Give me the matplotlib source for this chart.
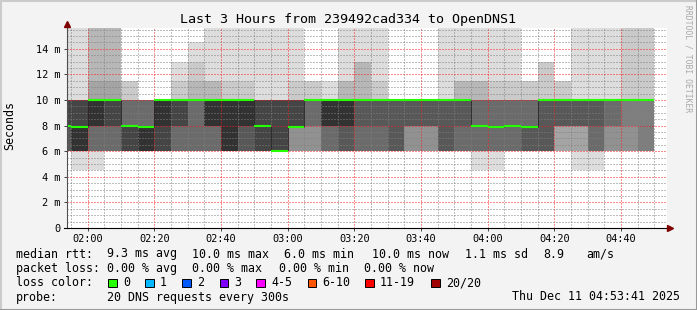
import numpy as np
import matplotlib
matplotlib.use('Agg')
import matplotlib.pyplot as plt
from matplotlib.patches import Rectangle
from matplotlib.lines import Line2D

# end time of each 5 minute bucket
bucket_end = ['01:55', '02:00', '02:05', '02:10', '02:15', '02:20', '02:25', '02:30', '02:35',
              '02:40', '02:45', '02:50', '02:55', '03:00', '03:05', '03:10', '03:15', '03:20',
              '03:25', '03:30', '03:35', '03:40', '03:45', '03:50', '03:55', '04:00', '04:05',
              '04:10', '04:15', '04:20', '04:25', '04:30', '04:35', '04:40', '04:45', '04:50']

# rtt levels (ms) and how many of the 20 pings landed on each, per bucket
levels = [4.5, 6.0, 8.0, 10.0, 11.5, 13.0, 14.5, 15.7]
ping_counts = [
    [0, 8, 3, 8, 0, 0, 0, 1],
    [1, 9, 1, 8, 0, 0, 0, 1],
    [1, 6, 3, 6, 1, 0, 0, 3],
    [0, 7, 2, 7, 1, 0, 0, 3],
    [0, 9, 4, 5, 2, 0, 0, 0],
    [0, 10, 3, 7, 0, 0, 0, 0],
    [0, 9, 1, 10, 0, 0, 0, 0],
    [0, 7, 2, 9, 1, 1, 0, 0],
    [0, 7, 0, 10, 1, 1, 1, 0],
    [0, 7, 3, 7, 2, 0, 0, 1],
    [0, 10, 0, 8, 1, 0, 0, 1],
    [0, 8, 2, 8, 1, 0, 0, 1],
    [0, 9, 2, 8, 0, 0, 0, 1],
    [0, 11, 0, 8, 0, 0, 0, 1],
    [0, 5, 6, 7, 1, 0, 0, 1],
    [0, 5, 2, 11, 2, 0, 0, 0],
    [0, 7, 3, 9, 1, 0, 0, 0],
    [0, 8, 2, 7, 2, 0, 0, 1],
    [0, 7, 1, 9, 0, 2, 0, 1],
    [0, 7, 1, 10, 1, 0, 0, 1],
    [0, 8, 0, 12, 0, 0, 0, 0],
    [0, 5, 3, 12, 0, 0, 0, 0],
    [0, 5, 3, 12, 0, 0, 0, 0],
    [0, 8, 0, 11, 0, 0, 0, 1],
    [0, 7, 1, 9, 2, 0, 0, 1],
    [1, 6, 6, 4, 2, 0, 0, 1],
    [1, 6, 6, 5, 1, 0, 0, 1],
    [0, 7, 6, 5, 1, 0, 0, 1],
    [0, 8, 5, 5, 2, 0, 0, 0],
    [0, 8, 0, 10, 0, 2, 0, 0],
    [0, 4, 4, 10, 2, 0, 0, 0],
    [1, 3, 4, 11, 0, 0, 0, 1],
    [1, 6, 1, 11, 0, 0, 0, 1],
    [0, 5, 2, 12, 0, 0, 0, 1],
    [0, 5, 1, 12, 0, 0, 0, 2],
    [0, 6, 0, 12, 0, 0, 0, 2],
]
median = [8.0, 7.9, 10.0, 10.0, 8.0, 7.9, 10.0, 10.0, 10.0, 10.0, 10.0, 10.0, 8.0, 6.0,
          7.9, 10.0, 10.0, 10.0, 10.0, 10.0, 10.0, 10.0, 10.0, 10.0, 10.0, 8.0, 7.9, 8.0,
          7.9, 10.0, 10.0, 10.0, 10.0, 10.0, 10.0, 10.0]

x_tick_labels = ['02:00', '02:20', '02:40', '03:00', '03:20', '03:40', '04:00', '04:20', '04:40']
y_tick_labels = ['0', '2 m', '4 m', '6 m', '8 m', '10 m', '12 m', '14 m']

title = 'Last 3 Hours from 239492cad334 to OpenDNS1'
rtt_stats = ['9.3 ms avg', '10.0 ms max', '6.0 ms min', '10.0 ms now', '1.1 ms sd', '8.9', 'am/s']
loss_stats = ['0.00 % avg', '0.00 % max', '0.00 % min', '0.00 % now']
loss_labels = ['0', '1', '2', '3', '4-5', '6-10', '11-19', '20/20']
loss_colors = ['#26ff00', '#00b8ff', '#0059ff', '#7e00ff', '#ff00ff', '#ff5500', '#ff0000', '#a10000']
probe_text = '20 DNS requests every 300s'
stamp = 'Thu Dec 11 04:53:41 2025'

W, H = 697, 310
MONO = 'DejaVu Sans Mono'


def to_min(s):
    h, m = s.split(':')
    return int(h) * 60 + int(m)


def px(x, y):
    return x / W, 1 - y / H


ends = np.array([to_min(s) for s in bucket_end], float)
starts = ends - 5
pings = np.array([np.repeat(levels, c) for c in ping_counts])
med = np.array(median)

fig = plt.figure(figsize=(W / 100, H / 100), dpi=100, facecolor='#f3f3f3')
ax = fig.add_axes([67 / W, 82 / H, 600 / W, 200 / H])
ax.set_facecolor('white')
t0 = 113.8
ax.set_xlim(t0, t0 + 180)
ax.set_ylim(0, 15.63)

# smoke: band k spans ping k .. ping 21-k, inner bands darker
for k in range(1, 11):
    g = (int(190 / 10 * (10 - k)) + 50) / 255
    lo = pings[:, k - 1]
    hi = pings[:, 20 - k]
    ax.bar(starts, hi - lo, width=5, bottom=lo, align='edge', color=(g, g, g),
           linewidth=0, antialiased=False, zorder=1)

# median line
chg = np.nonzero(np.diff(med))[0] + 1
ax.vlines(starts[chg], med[chg - 1], med[chg], color='#262626', lw=0.6, zorder=3)
ax.hlines(med, starts, ends, color='#26ff00', lw=1.5, zorder=4)

# grid
xmaj = np.arange(120, 281, 20)
ymaj = np.arange(0, 15, 2)
ax.set_xticks(xmaj)
ax.set_xticklabels(x_tick_labels)
ax.set_xticks([v for v in np.arange(115, 294, 5) if v % 20], minor=True)
ax.set_yticks(ymaj)
ax.set_yticklabels(y_tick_labels)
ax.set_yticks([v for v in np.arange(0.5, 15.7, 0.5) if v % 2], minor=True)
ax.set_axisbelow(False)
ax.grid(which='minor', color=(0.5, 0.5, 0.5, 0.42), linestyle=(0, (1, 2)), lw=0.72)
ax.grid(which='major', color=(1, 0.1, 0.1, 0.3), linestyle=(0, (1, 2)), lw=0.72)
ax.tick_params(which='minor', length=0)
ax.tick_params(which='major', length=2, width=0.7, color='#404040',
               labelsize=7.4, labelfontfamily=MONO)
ax.tick_params(axis='y', pad=3)
ax.tick_params(axis='x', pad=2)
for s in ax.spines.values():
    s.set_visible(False)

# axes with arrows
ax.plot([0, 0], [0, 1.01], transform=ax.transAxes, clip_on=False, color='#505050', lw=0.8, zorder=5)
ax.plot([-0.005, 1.0], [0, 0], transform=ax.transAxes, clip_on=False, color='black', lw=0.8, zorder=5)
ax.plot([0], [1.02], marker='^', ms=4, color='#800000', transform=ax.transAxes, clip_on=False, zorder=6)
ax.plot([1.005], [0], marker='>', ms=4, color='#800000', transform=ax.transAxes, clip_on=False, zorder=6)

# texts
fig.text(*px(348, 19), title, ha='center', va='center', fontsize=9.6, family=MONO)
fig.text(*px(10, 126), 'Seconds', rotation=90, ha='center', va='center', fontsize=8.4, family=MONO)
fig.text(*px(688, 5), 'RRDTOOL / TOBI OETIKER', rotation=270, ha='center', va='top',
         fontsize=5.8, family=MONO, color='#a8a8a8')

lf = dict(fontsize=8.4, family=MONO, va='center')
fig.text(*px(16, 254), 'median rtt:', **lf)
for x, s in zip([107, 192, 284, 372, 465, 543, 586], rtt_stats):
    fig.text(*px(x, 254), s, **lf)
fig.text(*px(16, 268.5), 'packet loss:', **lf)
for x, s in zip([107, 192, 279, 364], loss_stats):
    fig.text(*px(x, 268.5), s, **lf)
fig.text(*px(16, 282.5), 'loss color:', **lf)
box_x = [108, 145, 182, 219.5, 256, 307.5, 365, 431]
for bx, lab, c in zip(box_x, loss_labels, loss_colors):
    fig.add_artist(Rectangle(px(bx, 287), 8.5 / W, 8.5 / H, facecolor=c,
                             edgecolor='black', lw=0.7, transform=fig.transFigure))
    fig.text(*px(bx + 15, 282.5), lab, **lf)
fig.text(*px(16, 297), 'probe:', **lf)
fig.text(*px(107, 297), probe_text, **lf)
fig.text(*px(680, 297), stamp, ha='right', fontsize=8.4, family=MONO, va='center')

# frame
fig.add_artist(Line2D([0, 1], [1, 1], transform=fig.transFigure, color='#cbcbcb', lw=2.2))
fig.add_artist(Line2D([0, 0], [0, 1], transform=fig.transFigure, color='#cbcbcb', lw=2.2))
fig.add_artist(Line2D([0, 1], [0, 0], transform=fig.transFigure, color='#999999', lw=2.2))
fig.add_artist(Line2D([1, 1], [0, 1], transform=fig.transFigure, color='#999999', lw=2.2))

fig.savefig('out.png', dpi=100, facecolor=fig.get_facecolor())
